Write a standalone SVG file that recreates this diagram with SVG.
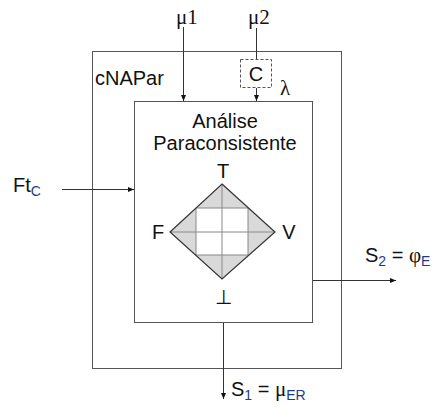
<svg xmlns="http://www.w3.org/2000/svg" width="443" height="418" viewBox="0 0 443 418">
<style>
.box{fill:none;stroke:#555;stroke-width:1}
.ln{fill:none;stroke:#333;stroke-width:1}
.t{font-family:"Liberation Sans",Arial,sans-serif;font-size:20px;fill:#111}
.g{font-family:"Liberation Serif","Times New Roman",serif;font-size:21px;fill:#111}
.sub{font-size:14px;fill:#1f3a8a}
.grid{fill:none;stroke:#888;stroke-width:1}
.dia{fill:none;stroke:#333;stroke-width:1.2}
</style>
<defs>
<marker id="ah" markerWidth="6" markerHeight="6" refX="6" refY="3" orient="auto" markerUnits="userSpaceOnUse">
<path d="M0,0.5 L6,3 L0,5.5 Z" fill="#111"/>
</marker>
</defs>
<rect width="443" height="418" fill="#fff"/>
<g id="cNAPar">
<rect class="box" x="92.5" y="51.5" width="249" height="317"/>
<text class="t" x="95" y="85">cNAPar</text>
</g>
<g id="analise">
<rect class="box" x="134.5" y="101.5" width="178" height="221"/>
<text class="t" x="225" y="128" text-anchor="middle">Análise</text>
<text class="t" x="225" y="150" text-anchor="middle">Paraconsistente</text>
</g>
<g id="lattice">
<polygon points="222,184 275,232 222,279 170,232" fill="#d9d9d9"/>
<rect x="196" y="208" width="52" height="47" fill="#fff"/>
<path class="grid" d="M196,208 H248 V255 H196 Z M222,184 V279 M170,232 H275"/>
<polygon class="dia" points="222,184 275,232 222,279 170,232"/>
<text class="t" x="223" y="178" text-anchor="middle">T</text>
<text class="t" x="158" y="239" text-anchor="middle">F</text>
<text class="t" x="289" y="239" text-anchor="middle">V</text>
<text class="t" x="223" y="304" text-anchor="middle">⊥</text>
</g>
<g id="C">
<rect x="240.5" y="59.5" width="31" height="28" fill="none" stroke="#555" stroke-width="1" stroke-dasharray="3,2"/>
<text class="t" x="256" y="81" text-anchor="middle">C</text>
</g>
<g id="inputs">
<text class="g" x="187" y="24" text-anchor="middle">μ1</text>
<text class="g" x="259" y="24" text-anchor="middle">μ2</text>
<text class="g" x="285" y="95" text-anchor="middle" font-size="19">λ</text>
<text class="t" x="13" y="192">Ft<tspan class="sub" dy="4">C</tspan></text>
</g>
<g id="outputs">
<text class="t" x="365" y="262">S<tspan class="sub" dy="4">2</tspan><tspan dy="-4"> = </tspan><tspan class="g" font-size="20">φ</tspan><tspan class="sub" dy="4" fill="#111">E</tspan></text>
<text class="t" x="231" y="396">S<tspan class="sub" dy="4">1</tspan><tspan dy="-4"> = </tspan><tspan class="g">μ</tspan><tspan class="sub" dy="4" fill="#111">ER</tspan></text>
</g>
<g id="connectors">
<line class="ln" x1="183.5" y1="27" x2="183.5" y2="101" marker-end="url(#ah)"/>
<line class="ln" x1="256.5" y1="28" x2="256.5" y2="59"/>
<line class="ln" x1="256.5" y1="88" x2="256.5" y2="101" marker-end="url(#ah)"/>
<line class="ln" x1="62" y1="189.5" x2="134" y2="189.5" marker-end="url(#ah)"/>
<line class="ln" x1="313" y1="280.5" x2="396" y2="280.5" marker-end="url(#ah)"/>
<line class="ln" x1="223.5" y1="323" x2="223.5" y2="399" marker-end="url(#ah)"/>
</g>
</svg>
